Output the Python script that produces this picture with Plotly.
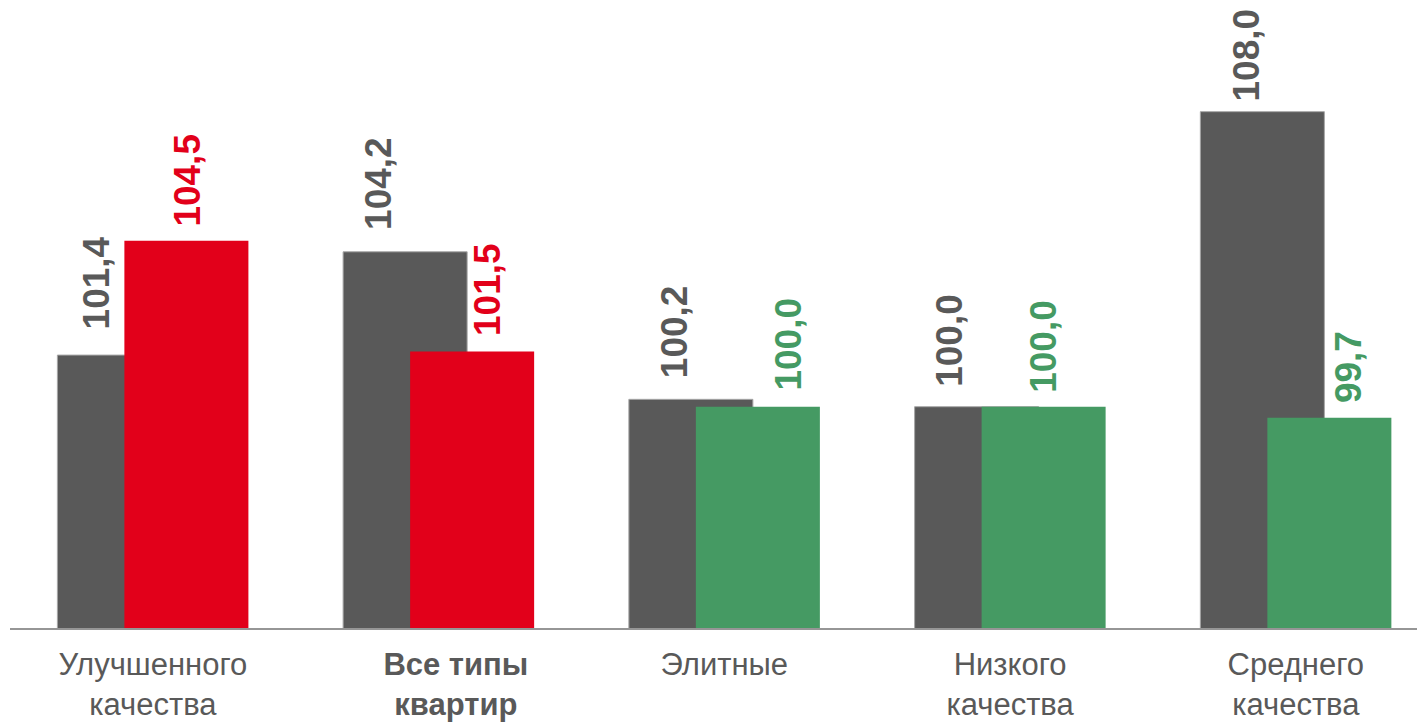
import plotly.graph_objects as go

categories = [["Улучшенного", "качества"], ["Все типы", "квартир"], ["Элитные"],
              ["Низкого", "качества"], ["Среднего", "качества"]]
series_prev = [101.4, 104.2, 100.2, 100.0, 108.0]
series_curr = [104.5, 101.5, 100.0, 100.0, 99.7]

GRAY = "#595959"
RED = "#E2001A"
GREEN = "#459A63"
curr_colors = [RED, RED, GREEN, GREEN, GREEN]

# label placement tweaks (pixels)
prev_dx = [-56, -60, -50, -60.5, -49.5]
prev_gap = [24, 20, 19, 18, 8]
curr_dx = [34.5, 49.5, 64, 33.5, 52.5]
curr_gap = [12, 13, 14, 12, 13]

x = list(range(len(categories)))
W = 0.434

def fmt(v):
    return f"{v:.1f}".replace(".", ",")

# tick text: the "all types" category is bold and slightly offset to the right
ticktext = []
for i, lines in enumerate(categories):
    if i == 1:
        ticktext.append("<br>".join("&nbsp;" * 4 + f"<b>{l}</b>" for l in lines))
    else:
        ticktext.append("<br>".join(lines))

fig = go.Figure()
fig.add_trace(go.Bar(x=x, y=series_prev, width=W, offset=-0.3342,
                     marker=dict(color=GRAY, line=dict(color="#a6a6a6", width=1)),
                     opacity=1, showlegend=False, hoverinfo="skip"))
fig.add_trace(go.Bar(x=x, y=series_curr, width=W, offset=-0.0997,
                     marker=dict(color=curr_colors, line=dict(width=0)),
                     opacity=1, showlegend=False, hoverinfo="skip"))

LABEL_FONT = "Liberation Sans, Arial, sans-serif"
for i in x:
    fig.add_annotation(x=i, y=series_prev[i], text=f"<b>{fmt(series_prev[i])}</b>",
                       textangle=-90, showarrow=False, xanchor="center", yanchor="bottom",
                       xshift=prev_dx[i], yshift=prev_gap[i],
                       font=dict(family=LABEL_FONT, size=37, color=GRAY))
    fig.add_annotation(x=i, y=series_curr[i], text=f"<b>{fmt(series_curr[i])}</b>",
                       textangle=-90, showarrow=False, xanchor="center", yanchor="bottom",
                       xshift=curr_dx[i], yshift=curr_gap[i],
                       font=dict(family=LABEL_FONT, size=37, color=curr_colors[i]))

fig.update_layout(
    width=1417, height=714,
    margin=dict(l=2, r=0, t=0, b=92),
    barmode="overlay",
    plot_bgcolor="white", paper_bgcolor="white",
    font=dict(family=LABEL_FONT, color=GRAY),
    xaxis=dict(tickmode="array", tickvals=x, ticktext=ticktext,
               range=[-0.5, 4.452], showline=True, linecolor="#969696", linewidth=1.5,
               showgrid=False, zeroline=False, ticks="", ticklabelstandoff=8,
               tickfont=dict(family=LABEL_FONT, size=31, color=GRAY)),
    yaxis=dict(range=[94, 94 + 622 / 37], visible=False, showgrid=False, zeroline=False),
)

fig.write_html("out.html")
